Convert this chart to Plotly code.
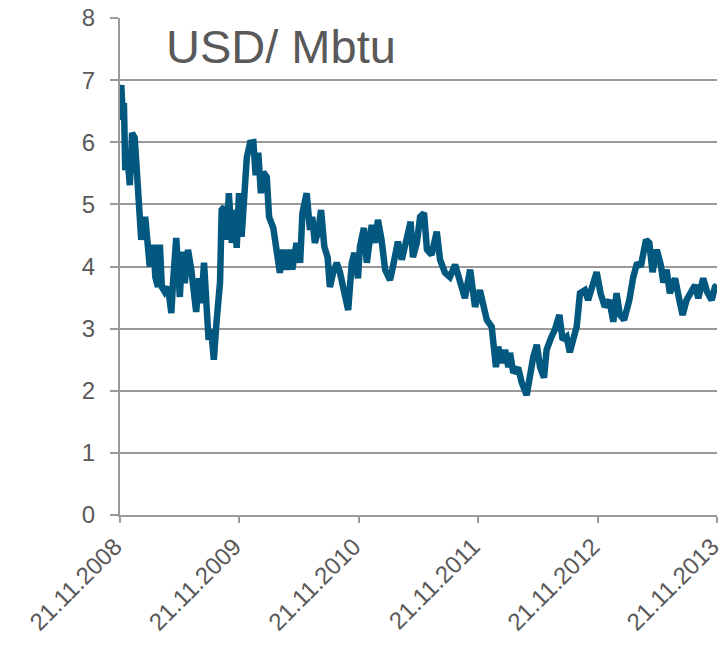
import pandas as pd
import plotly.graph_objects as go

start_date = "2008-11-21"
day_offsets = [
    0, 4, 9, 12, 16, 22, 30, 37, 45, 50, 57, 65, 77, 86, 91, 103, 108, 116, 122, 128,
    137, 147, 157, 162, 172, 183, 190, 198, 208, 218, 233, 242, 249, 257, 264, 271, 279, 287, 295, 301,
    306, 311,
    319, 326, 333, 342, 350, 357, 364, 372, 380, 388, 398, 408, 415, 423, 431, 438, 449, 456, 469, 479,
    489, 499, 510, 520, 527, 540, 551, 558, 571, 581, 588, 596, 607, 615, 625, 635, 642, 652, 663, 673,
    683, 698, 709, 717,
    728, 734, 746, 755, 770, 780, 789, 800, 811, 826, 835, 850, 862, 877, 889, 896, 908, 918, 930, 939,
    953, 969, 979, 994, 1009, 1025, 1040, 1055,
    1071, 1086, 1101, 1111, 1122, 1137, 1150, 1157, 1167, 1178, 1188, 1193, 1203, 1218, 1229, 1244, 1254, 1264, 1275, 1285,
    1297, 1305, 1320, 1330, 1344, 1354, 1366, 1376, 1386, 1397, 1407, 1422, 1432, 1443, 1458,
    1470, 1483, 1497, 1509, 1519, 1529, 1542, 1558, 1570, 1582, 1593, 1601, 1609, 1619, 1629, 1642, 1654, 1662, 1672, 1682,
    1698, 1711, 1721, 1733, 1749, 1759, 1769, 1784, 1796, 1810, 1820, 1826]
prices = [
    6.75, 6.92, 6.36, 6.63, 5.55, 5.83, 5.31, 6.15, 6.07, 5.55, 4.75, 4.43, 4.8, 4.38, 4.0, 4.35, 3.83, 3.67, 4.35, 3.67,
    3.59, 3.67, 3.25, 3.73, 4.46, 3.51, 4.24, 3.73, 4.27, 3.95, 3.27, 3.81, 3.41, 4.06, 3.51, 2.82, 2.98, 2.5, 3.09, 3.4,
    3.75, 4.91,
    4.96, 4.43, 5.18, 4.38, 4.91, 4.3, 5.18, 4.48, 5.23, 5.76, 5.99, 6.0, 5.47, 5.83, 5.18, 5.52, 5.44, 4.8, 4.62, 4.22,
    3.9, 4.27, 3.95, 4.27, 3.95, 4.38, 4.06, 4.86, 5.18, 4.59, 4.8, 4.38, 4.59, 4.91, 4.32, 4.15, 3.67, 3.9, 4.06, 3.9,
    3.62, 3.3, 4.06, 4.22,
    3.81, 4.32, 4.62, 4.06, 4.67, 4.38, 4.75, 4.43, 3.95, 3.78, 4.0, 4.4, 4.11, 4.43, 4.72, 4.15, 4.38, 4.8, 4.86, 4.27,
    4.19, 4.56, 4.11, 3.9, 3.83, 4.03, 3.74, 3.49,
    3.95, 3.35, 3.62, 3.35, 3.14, 3.03, 2.38, 2.71, 2.45, 2.66, 2.38, 2.61, 2.29, 2.37, 2.13, 1.93, 2.33, 2.54, 2.74, 2.38,
    2.21, 2.66, 2.87, 2.98, 3.22, 2.82, 2.87, 2.62, 2.82, 3.03, 3.57, 3.62, 3.46, 3.66, 3.91,
    3.57, 3.35, 3.46, 3.11, 3.57, 3.22, 3.14, 3.46, 3.83, 4.06, 4.0, 4.22, 4.43, 4.38, 3.91, 4.27, 4.03, 3.74, 3.95, 3.57,
    3.81, 3.46, 3.22, 3.46, 3.62, 3.7, 3.49, 3.81, 3.59, 3.46, 3.67, 3.7]

tick_dates = ["2008-11-21", "2009-11-21", "2010-11-21", "2011-11-21", "2012-11-21", "2013-11-21"]
tick_labels = ["21.11.2008", "21.11.2009", "21.11.2010", "21.11.2011", "21.11.2012", "21.11.2013"]
y_ticks = [0, 1, 2, 3, 4, 5, 6, 7, 8]
title_text = "USD/ Mbtu"

dates = pd.to_datetime(start_date) + pd.to_timedelta(day_offsets, unit="D")

fig = go.Figure()
fig.add_trace(go.Scatter(x=dates, y=prices, mode="lines",
                         line=dict(color="#03587F", width=6.5), showlegend=False))

grey = "#9A9A9A"
text_grey = "#595959"
fig.update_layout(
    width=724, height=645,
    margin=dict(l=120, r=7, t=18, b=130),
    plot_bgcolor="white", paper_bgcolor="white",
    font=dict(family="Liberation Sans, Arial, sans-serif", size=24, color=text_grey),
    xaxis=dict(type="date", range=["2008-11-21", "2013-11-21 04:00"], automargin=False,
               tickvals=tick_dates, ticktext=tick_labels, tickangle=-45,
               ticklabeloverflow="allow", ticklabelshift=-5,
               showgrid=False, showline=True, linecolor=grey, linewidth=2,
               ticks="outside", ticklen=6, tickwidth=2, tickcolor=grey, ticklabelstandoff=0,
               tickfont=dict(size=24, color=text_grey), zeroline=False),
    yaxis=dict(range=[0, 8], tickvals=y_ticks, automargin=False,
               showgrid=True, gridcolor=grey, gridwidth=2,
               showline=True, linecolor=grey, linewidth=2,
               ticks="outside", ticklen=8, tickwidth=2, tickcolor=grey, ticklabelstandoff=10,
               tickfont=dict(size=24, color=text_grey), zeroline=False),
    annotations=[dict(text=title_text, xref="paper", yref="paper", x=0.074, y=0.942,
                      xanchor="left", yanchor="middle", showarrow=False,
                      font=dict(size=47, color=text_grey))],
)

fig.write_html("out.html", config={"displayModeBar": False},
               post_script="document.body.style.margin='0px';")
